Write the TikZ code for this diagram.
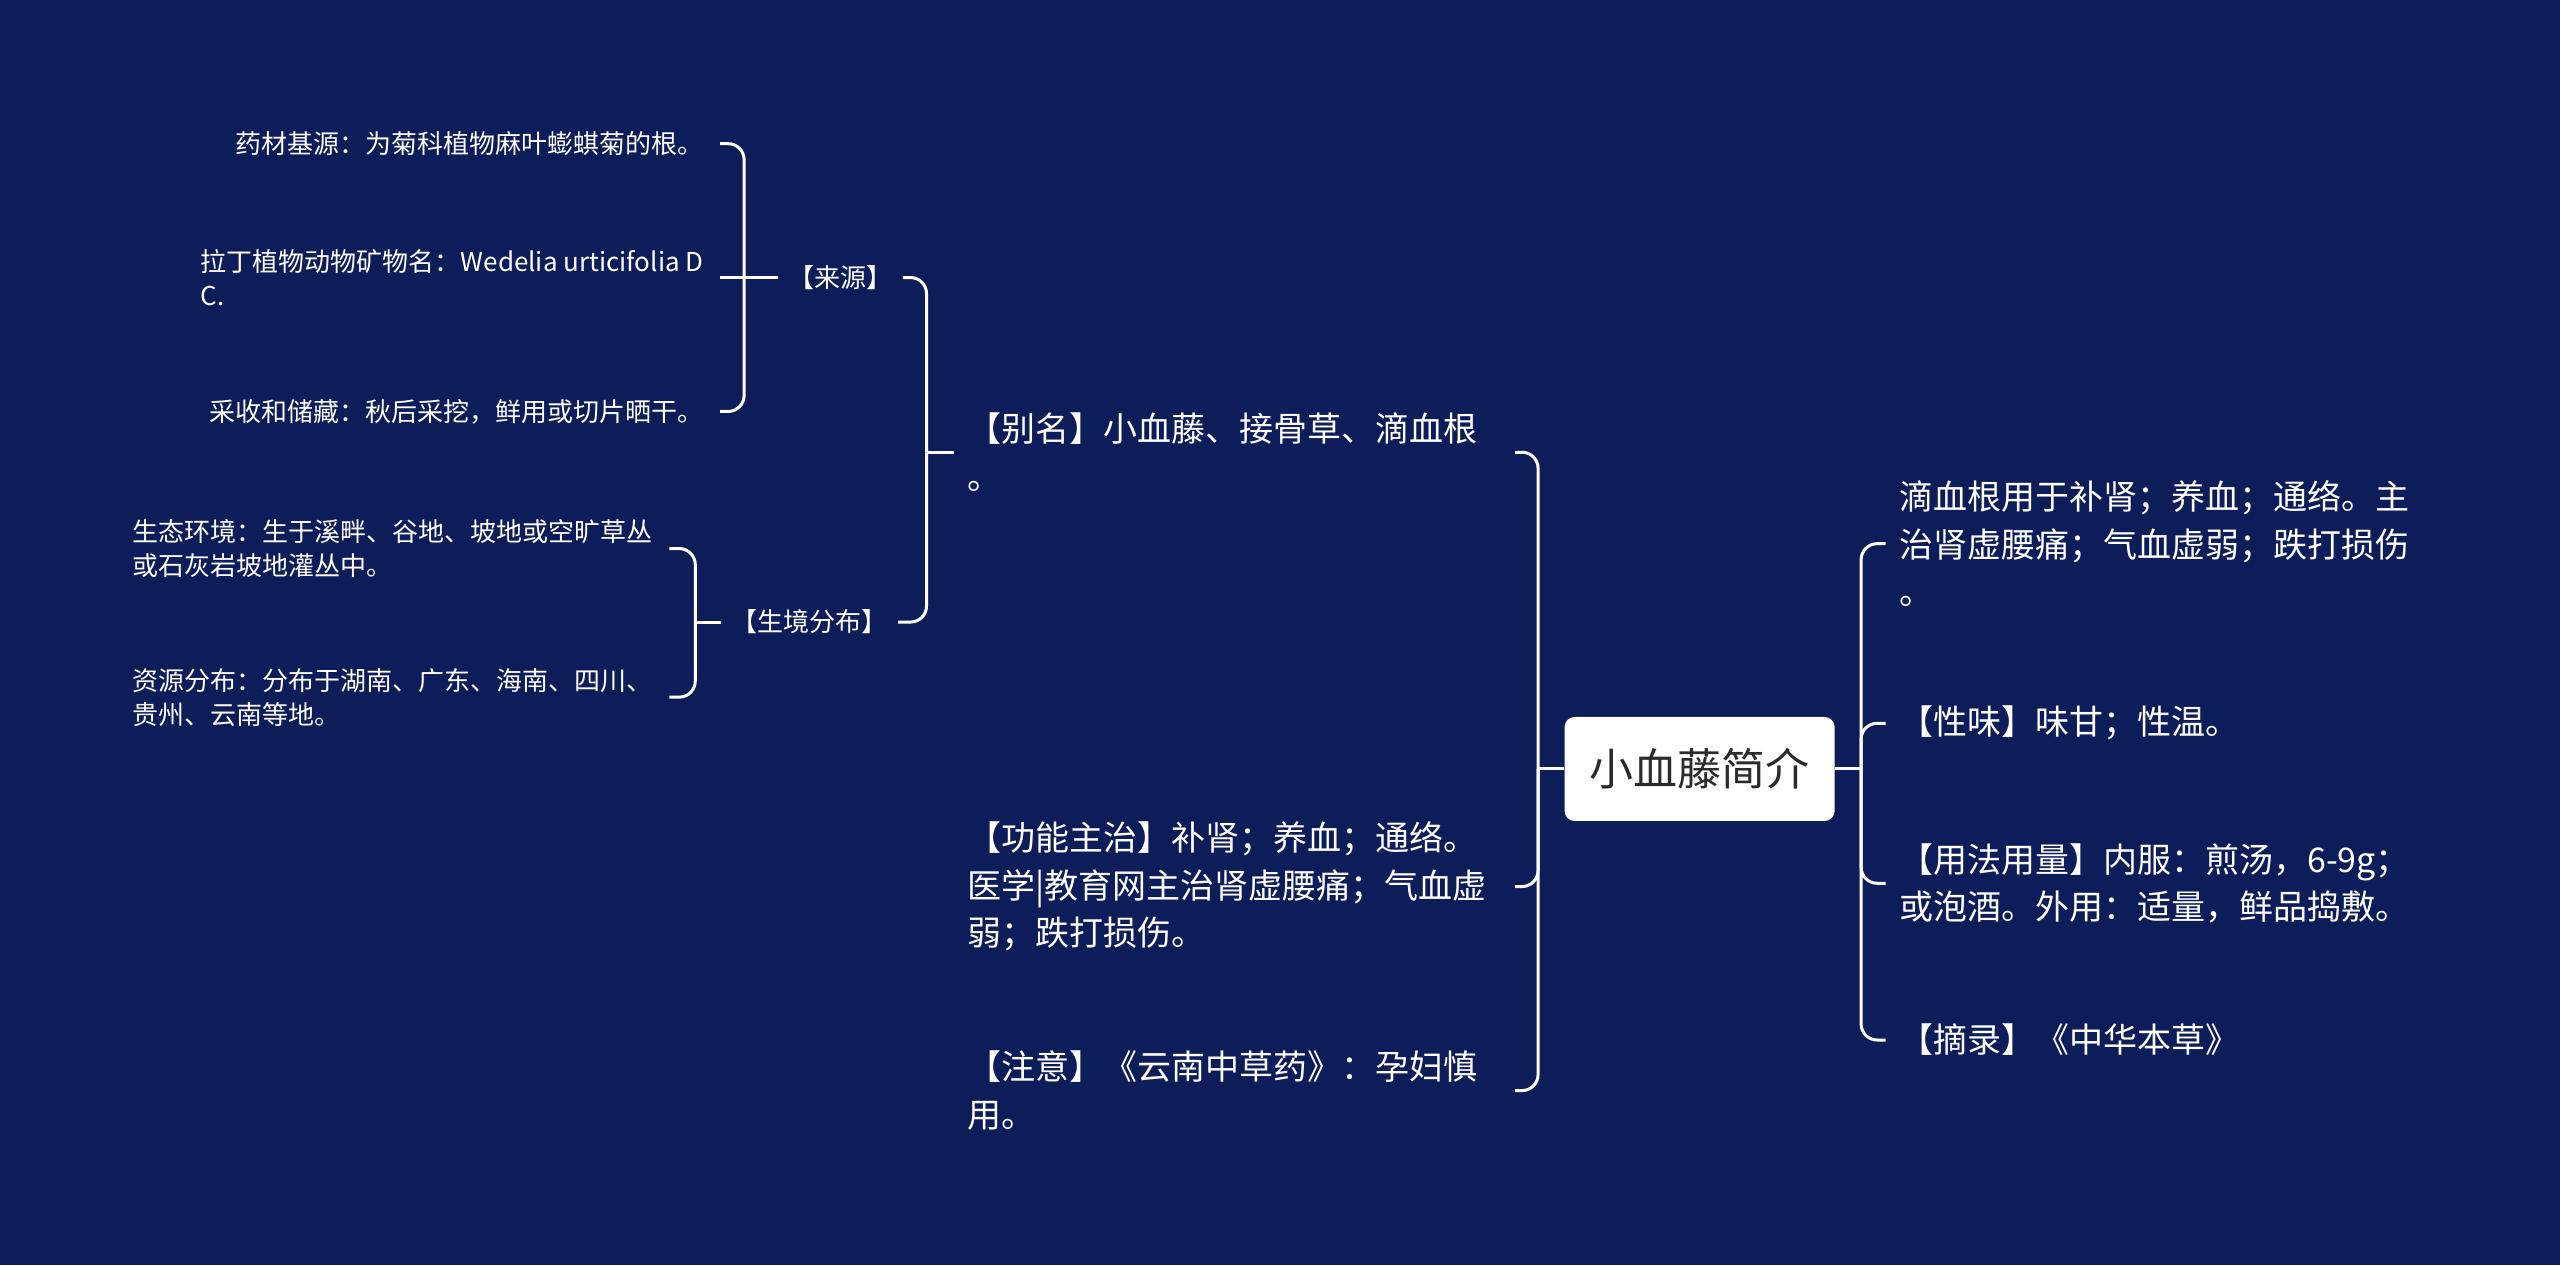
\documentclass[tikz,border=0pt]{standalone}
\usepackage{fontspec}
\setmainfont{Noto Sans CJK SC}
\usetikzlibrary{positioning,calc}
\definecolor{shutunavy}{HTML}{0C1D5A}
\definecolor{roottext}{HTML}{2B2B2B}
\tikzset{
  % knoten
  rootbox/.style={fill=white,rounded corners=5pt,minimum width=135pt,minimum height=52pt,
                  inner sep=0pt,text=roottext,font=\fontsize{22pt}{26pt}\selectfont},
  lone/.style={text=white,inner xsep=6.5pt,inner ysep=2pt,align=left,
               font=\fontsize{17pt}{23.7pt}\selectfont},
  ltwo/.style={text=white,inner xsep=5pt,inner ysep=2pt,font=\fontsize{13pt}{16pt}\selectfont},
  lthree/.style={text=white,inner xsep=8pt,inner ysep=2pt,align=left,
                 font=\fontsize{13pt}{17pt}\selectfont},
  % linien
  link/.style={draw=white,line width=1.5pt,rounded corners=8pt},
}
\begin{document}
\begin{tikzpicture}[x=0.8163pt,y=-0.8163pt]
  \fill[shutunavy] (0,0) rectangle (1568,775);
  \useasboundingbox (0,0) rectangle (1568,775);
  \node[rootbox] (root) at (1041,471) {小血藤简介};
  % rechts
  \node[lone,anchor=west] (dxg) at (1155,333) {滴血根用于补肾；养血；通络。主\\治肾虚腰痛；气血虚弱；跌打损伤\\。};
  \node[lone,anchor=west] (xw) at (1155,443) {【性味】味甘；性温。};
  \node[lone,anchor=west] (yf) at (1155,541) {【用法用量】内服：煎汤，6-9g；\\或泡酒。外用：适量，鲜品捣敷。};
  \node[lone,anchor=west] (zl) at (1155,637) {【摘录】《中华本草》};
  % links
  \node[lone,anchor=east,text width=267pt] (bm) at (928,277) {【别名】小血藤、接骨草、滴血根\\。};
  \node[lone,anchor=east,text width=267pt] (gn) at (928,543) {【功能主治】补肾；养血；通络。\\医学|教育网主治肾虚腰痛；气血虚\\弱；跌打损伤。};
  \node[lone,anchor=east,text width=267pt] (zy) at (928,668) {【注意】《云南中草药》：孕妇慎\\用。};
  \node[ltwo] (ly) at (515,170) {【来源】};
  \node[ltwo] (sj) at (496,381) {【生境分布】};
  \node[lthree,anchor=east] (jy) at (441,88) {药材基源：为菊科植物麻叶蟛蜞菊的根。};
  \node[lthree,anchor=east] (ld) at (441,170) {拉丁植物动物矿物名：Wedelia urticifolia D\\C.};
  \node[lthree,anchor=east] (cs) at (441,252) {采收和储藏：秋后采挖，鲜用或切片晒干。};
  \node[lthree,anchor=east] (st) at (410,336) {生态环境：生于溪畔、谷地、坡地或空旷草丛\\或石灰岩坡地灌丛中。};
  \node[lthree,anchor=east] (zf) at (410,427) {资源分布：分布于湖南、广东、海南、四川、\\贵州、云南等地。};
  % verbindungen
  \coordinate (jr) at ($(root.east)+(16,0)$);
  \coordinate (jl) at ($(root.west)+(-16,0)$);
  \coordinate (jb) at ($(bm.west)+(-17,0)$);
  \coordinate (jly) at ($(ly.west)+(-21,0)$);
  \coordinate (jsj) at ($(sj.west)+(-16,0)$);
  \draw[link] (root.east) -- (jr);
  \foreach \n in {dxg,xw,yf,zl} { \draw[link] (jr) |- (\n.west); }
  \draw[link] (root.west) -- (jl);
  \foreach \n in {bm,gn,zy} { \draw[link] (jl) |- (\n.east); }
  \draw[link] (bm.west) -- (jb);
  \foreach \n in {ly,sj} { \draw[link] (jb) |- (\n.east); }
  \draw[link] (ly.west) -- (jly) -- (ld.east);
  \foreach \n in {jy,cs} { \draw[link] (jly) |- (\n.east); }
  \draw[link] (sj.west) -- (jsj);
  \foreach \n in {st,zf} { \draw[link] (jsj) |- (\n.east); }
\end{tikzpicture}
\end{document}
